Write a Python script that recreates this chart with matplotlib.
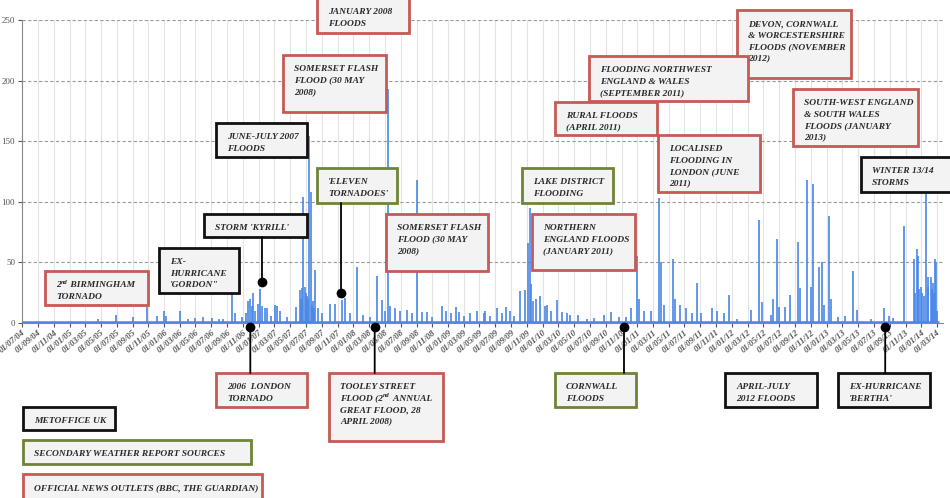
import numpy as np
import pandas as pd
import matplotlib
matplotlib.use('Agg')
import matplotlib.pyplot as plt
import matplotlib.dates as mdates
import matplotlib.transforms as mtransforms
from matplotlib.patches import Rectangle, ConnectionPatch

plt.rcParams['font.family'] = 'Liberation Serif'

# ------------------------------------------------------------
# Daily report counts (peaks)
# ------------------------------------------------------------
report_dates = [
    '2005-04-21', '2005-06-29', '2005-09-02', '2005-10-27', '2005-12-04', '2005-12-31',
    '2006-01-09', '2006-03-02', '2006-04-03', '2006-04-30', '2006-05-30', '2006-07-03',
    '2006-08-01', '2006-08-16', '2006-09-21', '2006-10-02', '2006-10-28', '2006-11-14',
    '2006-11-21', '2006-11-29', '2006-12-04', '2006-12-10', '2006-12-18', '2006-12-28',
    '2007-01-07', '2007-01-15', '2007-01-23', '2007-02-03', '2007-02-15', '2007-03-04',
    '2007-03-12', '2007-03-23', '2007-04-20', '2007-05-24', '2007-06-09', '2007-06-13',
    '2007-06-17', '2007-06-22', '2007-06-28', '2007-07-02', '2007-07-06', '2007-07-10',
    '2007-07-15', '2007-07-21', '2007-07-25', '2007-07-29', '2007-08-01', '2007-08-06',
    '2007-08-18', '2007-09-03', '2007-10-01', '2007-10-23', '2007-11-18', '2007-12-01',
    '2007-12-20', '2008-01-15', '2008-02-08', '2008-03-06', '2008-04-01', '2008-04-20',
    '2008-05-03', '2008-05-15', '2008-05-22', '2008-06-11', '2008-06-30', '2008-07-26',
    '2008-08-15', '2008-09-03', '2008-09-23', '2008-10-12', '2008-10-31', '2008-12-09',
    '2008-12-22', '2009-01-11', '2009-01-30', '2009-02-12', '2009-03-01', '2009-03-27',
    '2009-04-22', '2009-05-17', '2009-05-24', '2009-06-12', '2009-07-08', '2009-07-29',
    '2009-08-10', '2009-08-29', '2009-09-11', '2009-10-04', '2009-10-23', '2009-11-06',
    '2009-11-11', '2009-11-18', '2009-11-25', '2009-12-04', '2009-12-19', '2010-01-08',
    '2010-01-18', '2010-01-31', '2010-02-24', '2010-03-16', '2010-04-04', '2010-04-17',
    '2010-05-17', '2010-06-21', '2010-07-16', '2010-08-24', '2010-09-19', '2010-10-21',
    '2010-11-16', '2010-12-06', '2011-01-01', '2011-01-07', '2011-01-26', '2011-02-21',
    '2011-03-24', '2011-04-02', '2011-04-12', '2011-05-20', '2011-05-27', '2011-06-16',
    '2011-07-08', '2011-07-31', '2011-08-19', '2011-09-04', '2011-10-17', '2011-11-05',
    '2011-12-01', '2011-12-20', '2012-01-19', '2012-03-13', '2012-04-14', '2012-04-27',
    '2012-05-29', '2012-06-07', '2012-06-22', '2012-07-01', '2012-07-23', '2012-08-12',
    '2012-09-10', '2012-09-18', '2012-10-16', '2012-11-01', '2012-11-10', '2012-12-02',
    '2012-12-12', '2012-12-22', '2013-01-08', '2013-01-17', '2013-02-12', '2013-03-10',
    '2013-04-13', '2013-04-29', '2013-06-19', '2013-08-10', '2013-08-29', '2013-09-12',
    '2013-10-26', '2013-12-04', '2013-12-08', '2013-12-13', '2013-12-19', '2013-12-24',
    '2013-12-30', '2014-01-03', '2014-01-10', '2014-01-19', '2014-01-25', '2014-01-28',
    '2014-02-05', '2014-02-09', '2014-02-14', '2014-02-18', '2014-02-22', '2014-02-27',
    '2014-03-03',
]
report_counts = [
    3, 7, 5, 13, 6, 10,
    6, 10, 3, 4, 5, 4,
    3, 3, 24, 8, 5, 8,
    18, 20, 14, 25, 10, 16,
    28, 14, 12, 12, 6, 15,
    14, 10, 5, 13, 27, 20,
    29, 104, 30, 25, 22, 20,
    154, 108, 15, 18, 12, 44,
    12, 8, 16, 16, 19, 21,
    8, 46, 7, 5, 39, 19,
    10, 193, 14, 12, 10, 11,
    8, 118, 9, 9, 5, 14,
    10, 8, 13, 9, 6, 8,
    10, 8, 10, 6, 12, 8,
    13, 10, 6, 26, 27, 66,
    95, 32, 18, 20, 22, 14,
    15, 10, 19, 9, 8, 7,
    7, 3, 4, 7, 9, 5,
    5, 12, 55, 20, 10, 10,
    103, 50, 15, 53, 20, 15,
    12, 8, 33, 8, 12, 10,
    8, 23, 3, 11, 85, 17,
    7, 20, 69, 13, 13, 23,
    67, 29, 118, 30, 115, 46,
    50, 15, 88, 20, 5, 6,
    43, 11, 3, 12, 6, 4,
    80, 53, 25, 61, 55, 28,
    30, 25, 22, 108, 38, 30,
    38, 28, 33, 25, 53, 50,
    10,
]

# ------------------------------------------------------------
# Annotation boxes (figure pixels: left, top, right, bottom)
# "^nd" marks a superscript
# ------------------------------------------------------------
RED, BLACK, GREEN = '#c55a56', '#111111', '#6e8438'

box_texts = [
    '2^nd BIRMINGHAM\nTORNADO',
    'EX-\nHURRICANE\n\'GORDON"',
    "STORM 'KYRILL'",
    'JUNE-JULY 2007\nFLOODS',
    'JANUARY 2008\nFLOODS',
    'SOMERSET FLASH\nFLOOD (30 MAY\n2008)',
    "'ELEVEN\nTORNADOES'",
    'SOMERSET FLASH\nFLOOD (30 MAY\n2008)',
    'LAKE DISTRICT\nFLOODING',
    'NORTHERN\nENGLAND FLOODS\n(JANUARY 2011)',
    'RURAL FLOODS\n(APRIL 2011)',
    'DEVON, CORNWALL\n& WORCESTERSHIRE\nFLOODS (NOVEMBER\n2012)',
    'FLOODING NORTHWEST\nENGLAND & WALES\n(SEPTEMBER 2011)',
    'LOCALISED\nFLOODING IN\nLONDON (JUNE\n2011)',
    'SOUTH-WEST ENGLAND\n& SOUTH WALES\nFLOODS (JANUARY\n2013)',
    'WINTER 13/14\nSTORMS',
    '2006  LONDON\nTORNADO',
    'TOOLEY STREET\nFLOOD (2^nd ANNUAL\nGREAT FLOOD, 28\nAPRIL 2008)',
    'CORNWALL\nFLOODS',
    'APRIL-JULY\n2012 FLOODS',
    "EX-HURRICANE\n'BERTHA'",
    'METOFFICE UK',
    'SECONDARY WEATHER REPORT SOURCES',
    'OFFICIAL NEWS OUTLETS (BBC, THE GUARDIAN)',
]
box_colors = [RED, BLACK, BLACK, BLACK, RED, RED, GREEN, RED, GREEN, RED, RED, RED,
              RED, RED, RED, BLACK, RED, RED, GREEN, BLACK, BLACK, BLACK, GREEN, RED]
box_rects = [
    (45, 271, 148, 305), (159, 248, 239, 293), (204, 214, 307, 237), (216, 123, 307, 157),
    (317, -2, 409, 33), (283, 55, 386, 112), (317, 168, 397, 203), (386, 214, 488, 271),
    (522, 168, 613, 203), (532, 214, 635, 270), (555, 102, 657, 135), (737, 10, 851, 78),
    (589, 56, 748, 101), (658, 135, 760, 192), (793, 89, 918, 146), (861, 157, 956, 192),
    (216, 373, 307, 407), (329, 373, 443, 441), (555, 373, 636, 407), (725, 373, 817, 407),
    (838, 373, 930, 407), (23, 407, 115, 430), (23, 440, 251, 464), (23, 474, 262, 500),
]

# pointer dots: (date, value) and the box each one hangs from
pointer_dates = ['2007-01-13', '2007-11-14', '2006-11-29', '2008-03-23', '2010-11-10', '2013-08-14']
pointer_values = [33.6, 24.5, -3, -3, -3, -3]
pointer_boxes = [2, 6, 16, 17, 18, 20]

dates = pd.to_datetime(report_dates)

fig = plt.figure(figsize=(9.5, 4.98), dpi=100)
ax = fig.add_axes([22 / 950, 1 - 323 / 498, 921 / 950, 303 / 498])

ax.vlines(dates, 0, report_counts, color='#4a86e8', lw=1.2, zorder=3)
ax.plot(pd.to_datetime(['2004-07-01', '2014-03-08']), [0.6, 0.6], color='#4a86e8', lw=1.8,
        zorder=3, solid_capstyle='butt')

ax.set_xlim(pd.Timestamp('2004-07-01'), pd.Timestamp('2014-03-25'))
ax.set_ylim(0, 250)
ax.set_yticks(range(0, 251, 50))
ax.tick_params(axis='y', labelsize=6.5, colors='#555555', length=3, pad=2)
ax.xaxis.set_major_locator(mdates.MonthLocator(bymonth=[1, 3, 5, 7, 9, 11]))
ax.xaxis.set_major_formatter(mdates.DateFormatter('%d/%m/%y'))
ax.tick_params(axis='x', labelsize=6.3, colors='#555555', length=3, pad=1)
for lab in ax.get_xticklabels():
    lab.set_rotation(40)
    lab.set_ha('right')
    lab.set_rotation_mode('anchor')
    lab.set_fontstyle('italic')
    lab.set_fontweight('bold')

ax.grid(axis='x', color='#e3e3e3', lw=0.8)
for yv in range(50, 251, 50):
    ax.axhline(yv, color='#9a9a9a', lw=0.8, ls=(0, (3, 2)), zorder=1)
for s in ['top', 'right']:
    ax.spines[s].set_visible(False)
ax.spines['left'].set_color('#888888')
ax.spines['bottom'].set_color('#888888')
ax.set_axisbelow(True)

# overlay in pixel coordinates for the boxes
ov = fig.add_axes([0, 0, 1, 1], zorder=5)
ov.set_xlim(0, 950)
ov.set_ylim(498, 0)
ov.axis('off')
ov.patch.set_alpha(0)
renderer = fig.canvas.get_renderer()
txt_kw = dict(ha='left', va='baseline', fontstyle='italic', fontweight='bold', color='#2a2a2a')


def put_line(x, y, line, z):
    # draw a line of box text; "^nd" becomes a small raised "nd"
    parts = line.split('^nd')
    for j, part in enumerate(parts):
        if j > 0:
            s = ov.text(x, y - 3.5, 'nd', fontsize=4.6, zorder=z, **txt_kw)
            x += s.get_window_extent(renderer).width + 1
        t = ov.text(x, y, part, fontsize=6.8, zorder=z, **txt_kw)
        x += t.get_window_extent(renderer).width


for i, (txt, col, (l, t, r, b)) in enumerate(zip(box_texts, box_colors, box_rects)):
    z = 6 if i == 12 else 5
    ov.add_patch(Rectangle((l, t), r - l, b - t, facecolor='#f3f3f3', edgecolor=col,
                           lw=2.0, zorder=z, clip_on=False))
    for k, line in enumerate(txt.split('\n')):
        put_line(l + 11, t + 16 + k * 11.5, line, z + 0.5)

blend = mtransforms.blended_transform_factory(ax.transData, ov.transData)
for d, v, bi in zip(pointer_dates, pointer_values, pointer_boxes):
    dn = mdates.date2num(pd.Timestamp(d))
    l, t, r, b = box_rects[bi]
    edge = b if v > 0 else t
    con = ConnectionPatch(xyA=(dn, v), coordsA=ax.transData, xyB=(dn, edge), coordsB=blend,
                          color='black', lw=1.3, zorder=7)
    fig.add_artist(con)
    ax.plot([dn], [v], 'o', color='black', ms=6, clip_on=False, zorder=8)

fig.savefig('out.png', dpi=100)
